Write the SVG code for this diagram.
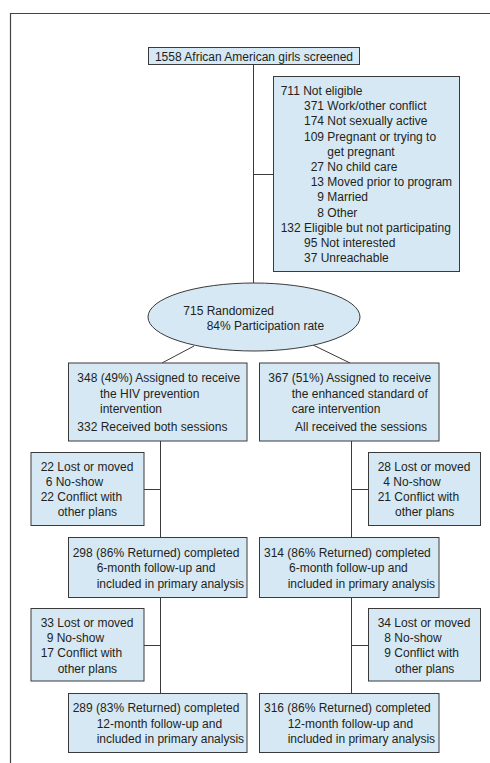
<svg xmlns="http://www.w3.org/2000/svg" width="490" height="763" viewBox="0 0 490 763">
<style>
.box{fill:#d6e8f3;stroke:#3a3a3a;stroke-width:1}
.t{font-family:"Liberation Sans",Arial,Helvetica,sans-serif;font-size:12px;fill:#231f20}
.c{stroke:#3a3a3a;stroke-width:1;fill:none}
.frame{stroke:#444;stroke-width:1.2;fill:none}
</style>
<rect x="0" y="0" width="490" height="763" fill="#ffffff"/>
<path class="frame" d="M10.5,763 V13.5 H490"/>
<g id="connectors">
<path class="c" d="M253.5,64.5 V283"/>
<path class="c" d="M253.5,174.5 H273.5"/>
<path class="c" d="M194,346 L162,363"/>
<path class="c" d="M313,345 L350,363"/>
<path class="c" d="M160.5,441 V537.5"/>
<path class="c" d="M144,489.5 H160.5"/>
<path class="c" d="M160.5,597.5 V693.5"/>
<path class="c" d="M144,645.5 H160.5"/>
<path class="c" d="M351.5,441 V537.5"/>
<path class="c" d="M351.5,489.5 H368.5"/>
<path class="c" d="M351.5,597.5 V693.5"/>
<path class="c" d="M351.5,645.5 H368.5"/>
</g>
<g id="screened">
<rect class="box" x="148.5" y="47.5" width="211" height="17"/>
<text class="t" x="254" y="60.5" text-anchor="middle">1558 African American girls screened</text>
</g>
<g id="not-eligible">
<rect class="box" x="273.5" y="76.5" width="186" height="195"/>
<text class="t" x="280.7" y="95">711 Not eligible</text>
<text class="t" x="304" y="110.2">371 Work/other conflict</text>
<text class="t" x="304" y="125.4">174 Not sexually active</text>
<text class="t" x="304" y="140.6">109 Pregnant or trying to</text>
<text class="t" x="327.3" y="155.8">get pregnant</text>
<text class="t" x="310.7" y="171">27 No child care</text>
<text class="t" x="310.7" y="186.2">13 Moved prior to program</text>
<text class="t" x="317.3" y="201.4">9 Married</text>
<text class="t" x="317.3" y="216.6">8 Other</text>
<text class="t" x="280.7" y="231.8">132 Eligible but not participating</text>
<text class="t" x="304" y="247">95 Not interested</text>
<text class="t" x="304" y="262.2">37 Unreachable</text>
</g>
<g id="randomized">
<ellipse class="box" cx="254" cy="317" rx="106" ry="34"/>
<text class="t" x="183.3" y="314.5">715 Randomized</text>
<text class="t" x="206.7" y="329.5">84% Participation rate</text>
</g>
<g id="assign-hiv">
<rect class="box" x="68.5" y="363" width="178.5" height="78"/>
<text class="t" x="77.3" y="382">348 (49%) Assigned to receive</text>
<text class="t" x="100" y="397.5">the HIV prevention</text>
<text class="t" x="100" y="413">intervention</text>
<text class="t" x="77.3" y="431">332 Received both sessions</text>
</g>
<g id="assign-care">
<rect class="box" x="259.5" y="363" width="179.5" height="78"/>
<text class="t" x="268.3" y="382">367 (51%) Assigned to receive</text>
<text class="t" x="291.7" y="397.5">the enhanced standard of</text>
<text class="t" x="291.7" y="413">care intervention</text>
<text class="t" x="295" y="431">All received the sessions</text>
</g>
<g id="lost-hiv-6">
<rect class="box" x="31" y="452.5" width="113" height="73"/>
<text class="t" x="40.7" y="471">22 Lost or moved</text>
<text class="t" x="45.7" y="486">6 No-show</text>
<text class="t" x="40.7" y="501">22 Conflict with</text>
<text class="t" x="57.7" y="516">other plans</text>
</g>
<g id="hiv-6month">
<rect class="box" x="68.5" y="537.5" width="178.5" height="60"/>
<text class="t" x="72.7" y="556.5">298 (86% Returned) completed</text>
<text class="t" x="96.7" y="572">6-month follow-up and</text>
<text class="t" x="96.7" y="587.5">included in primary analysis</text>
</g>
<g id="lost-care-6">
<rect class="box" x="368.5" y="452.5" width="112" height="73"/>
<text class="t" x="377.7" y="471">28 Lost or moved</text>
<text class="t" x="383.3" y="486">4 No-show</text>
<text class="t" x="377.7" y="501">21 Conflict with</text>
<text class="t" x="395" y="516">other plans</text>
</g>
<g id="care-6month">
<rect class="box" x="259.5" y="537.5" width="179.5" height="60"/>
<text class="t" x="264" y="556.5">314 (86% Returned) completed</text>
<text class="t" x="289" y="572">6-month follow-up and</text>
<text class="t" x="287.7" y="587.5">included in primary analysis</text>
</g>
<g id="lost-hiv-12">
<rect class="box" x="31" y="608.5" width="113" height="72.5"/>
<text class="t" x="40.7" y="627">33 Lost or moved</text>
<text class="t" x="46.7" y="642">9 No-show</text>
<text class="t" x="40.7" y="657">17 Conflict with</text>
<text class="t" x="57.7" y="672.5">other plans</text>
</g>
<g id="hiv-12month">
<rect class="box" x="68.5" y="693.5" width="178.5" height="59"/>
<text class="t" x="72.7" y="712">289 (83% Returned) completed</text>
<text class="t" x="96.7" y="727.5">12-month follow-up and</text>
<text class="t" x="96.7" y="743">included in primary analysis</text>
</g>
<g id="lost-care-12">
<rect class="box" x="368.5" y="608.5" width="112" height="72.5"/>
<text class="t" x="377.7" y="627">34 Lost or moved</text>
<text class="t" x="384.3" y="642">8 No-show</text>
<text class="t" x="384.3" y="657">9 Conflict with</text>
<text class="t" x="395" y="672.5">other plans</text>
</g>
<g id="care-12month">
<rect class="box" x="259.5" y="693.5" width="179.5" height="59"/>
<text class="t" x="264" y="712">316 (86% Returned) completed</text>
<text class="t" x="287.7" y="727.5">12-month follow-up and</text>
<text class="t" x="287.7" y="743">included in primary analysis</text>
</g>
</svg>
